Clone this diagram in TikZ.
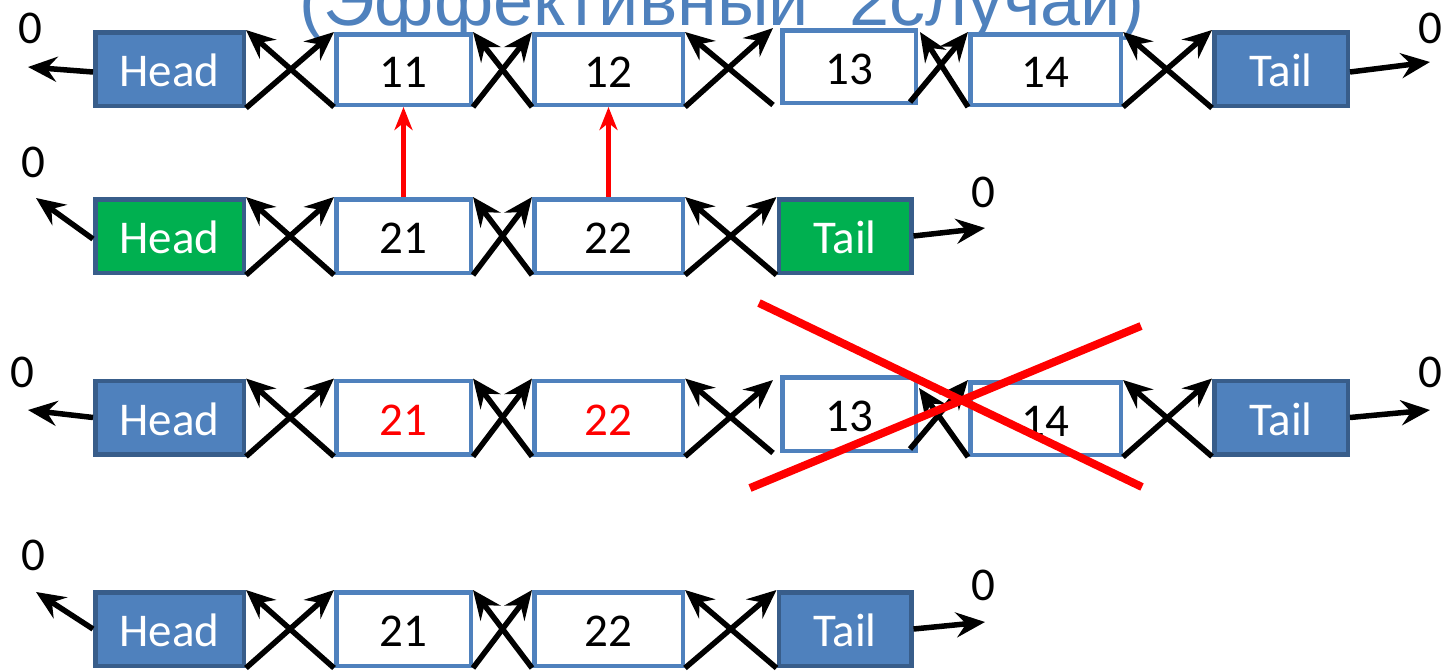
\documentclass[tikz,border=0pt]{standalone}
\usepackage{fontspec}
\setmainfont{Carlito}
\newfontfamily\titlefont{Liberation Sans}
\usetikzlibrary{arrows.meta,calc}
\definecolor{pblue}{HTML}{4F81BD}
\definecolor{pdark}{HTML}{385D8A}
\definecolor{pgreen}{HTML}{00B050}
\definecolor{pred}{HTML}{FF0000}
\tikzset{
  bluebox/.style={draw=pdark, fill=pblue, line width=4.5pt, text=white, inner sep=0pt, minimum height=73.5pt, text height=35pt, text depth=0pt, font=\fontsize{47}{50}\selectfont},
  greenbox/.style={bluebox, fill=pgreen},
  whitebox/.style={draw=pblue, fill=white, line width=4.5pt, text=black, inner sep=0pt, minimum height=70.5pt, text height=35pt, text depth=0pt, font=\fontsize{47}{50}\selectfont},
  arr/.style={line width=5.5pt, -{Stealth[length=29pt,width=25pt,inset=10pt]}},
  redarr/.style={draw=pred, line width=4.5pt, -{Stealth[length=23pt,width=18pt,inset=7pt]}},
  cross/.style={draw=pred, line width=8pt},
  zero/.style={font=\fontsize{47}{50}\selectfont, inner sep=0pt}
}
\begin{document}
\begin{tikzpicture}[x=1pt,y=-1pt]
\clip (0,0) rectangle (1443,670);
\fill[white] (0,0) rectangle (1443,670);

% title
\node[anchor=base, inner sep=0pt, text=pblue, font=\titlefont\fontsize{72}{80}\selectfont] (title) at (722,25) {(Эффективный\ \ 2случай)};

% ---------- row 1 ----------
\node[bluebox, minimum width=148.5pt] (h1) at (169.5,69) {Head};
\node[whitebox, minimum width=134.5pt] (a11) at (403.5,69.5) {11};
\node[whitebox, minimum width=148.5pt] (a12) at (608.5,69.5) {12};
\node[whitebox, minimum width=133.5pt, minimum height=72.5pt] (a13) at (849,66.5) {13};
\node[whitebox, minimum width=150.5pt] (a14) at (1045.5,69.5) {14};
\node[bluebox, minimum width=133.5pt] (t1) at (1281,69) {Tail};

\draw[arr] (h1.south east) -- (a11.north west);
\draw[arr] (a11.south west) -- (h1.north east);
\draw[arr] (a11.south east) -- (a12.north west);
\draw[arr] (a12.south west) -- (a11.north east);
\draw[arr] (a12.south east) -- ([xshift=-7pt]a13.north west);
\draw[arr] ([xshift=-7pt]a13.south west) -- (a12.north east);
\draw[arr] ([xshift=-8pt,yshift=3pt]a13.south east) -- (a14.north west);
\draw[arr] (a14.south west) -- ([xshift=2pt,yshift=-4pt]a13.north east);
\draw[arr] (a14.south east) -- (t1.north west);
\draw[arr] (t1.south west) -- (a14.north east);

\coordinate (z1l) at (28,67);
\coordinate (z1r) at (1430,62);
\draw[arr] ([yshift=-3pt]h1.west) -- (z1l);
\draw[arr] ([yshift=-3pt]t1.east) -- (z1r);
\node[zero] (o1l) at (30,28) {0};
\node[zero] (o1r) at (1430,28) {0};

% ---------- row 2 ----------
\node[greenbox, minimum width=148.5pt] (h2) at (169.5,236) {Head};
\node[whitebox, minimum width=134.5pt, minimum height=73.5pt] (b21) at (403.5,236) {21};
\node[whitebox, minimum width=148.5pt, minimum height=73.5pt] (b22) at (608.5,236) {22};
\node[greenbox, minimum width=132.5pt] (t2) at (845,236) {Tail};

\draw[arr] (h2.south east) -- (b21.north west);
\draw[arr] (b21.south west) -- (h2.north east);
\draw[arr] (b21.south east) -- (b22.north west);
\draw[arr] (b22.south west) -- (b21.north east);
\draw[arr] (b22.south east) -- (t2.north west);
\draw[arr] (t2.south west) -- (b22.north east);

\coordinate (z2l) at (36,198);
\coordinate (z2r) at (985,228);
\draw[arr] ([yshift=-3pt]h2.west) -- (z2l);
\draw[arr] (t2.east) -- (z2r);
\node[zero] (o2l) at (33,162) {0};
\node[zero] (o2r) at (983,192) {0};

\draw[redarr] (b21.north) -- (a11.south);
\draw[redarr] (b22.north) -- (a12.south);

% ---------- row 3 ----------
\node[bluebox, minimum width=148.5pt] (h3) at (169.5,417.5) {Head};
\node[whitebox, minimum width=134.5pt, minimum height=73.5pt, text=pred] (c21) at (403.5,417.5) {21};
\node[whitebox, minimum width=148.5pt, minimum height=73.5pt, text=pred] (c22) at (608.5,417.5) {22};
\node[whitebox, minimum width=133.5pt, minimum height=73.5pt] (c13) at (849,414) {13};
\node[whitebox, minimum width=150.5pt, minimum height=72.5pt] (c14) at (1045.5,418.5) {14};
\node[bluebox, minimum width=133.5pt] (t3) at (1281,417.5) {Tail};

\draw[arr] (h3.south east) -- (c21.north west);
\draw[arr] (c21.south west) -- (h3.north east);
\draw[arr] (c21.south east) -- (c22.north west);
\draw[arr] (c22.south west) -- (c21.north east);
\draw[arr] (c22.south east) -- ([xshift=-7pt,yshift=-5pt]c13.north west);
\draw[arr] ([xshift=-7pt]c13.south west) -- (c22.north east);
\draw[arr] ([xshift=-8pt,yshift=4pt]c13.south east) -- (c14.north west);
\draw[arr] (c14.south west) -- ([xshift=1pt,yshift=-13pt]c13.north east);
\draw[arr] (c14.south east) -- (t3.north west);
\draw[arr] (t3.south west) -- (c14.north east);

\coordinate (z3l) at (28,410);
\coordinate (z3r) at (1430,410);
\draw[arr] (h3.west) -- (z3l);
\draw[arr] (t3.east) -- (z3r);
\node[zero] (o3l) at (22,372) {0};
\node[zero] (o3r) at (1430,372) {0};

% red cross
\coordinate (x1a) at (759,303);
\coordinate (x1b) at (1142,487);
\coordinate (x2a) at (750,488);
\coordinate (x2b) at (1141,326);
\draw[cross] (x1a) -- (x1b);
\draw[cross] (x2a) -- (x2b);

% ---------- row 4 ----------
\node[bluebox, minimum width=148.5pt] (h4) at (169.5,629) {Head};
\node[whitebox, minimum width=134.5pt, minimum height=73.5pt] (d21) at (403.5,629) {21};
\node[whitebox, minimum width=148.5pt, minimum height=73.5pt] (d22) at (608.5,629) {22};
\node[bluebox, minimum width=132.5pt] (t4) at (845,629) {Tail};

\draw[arr] (h4.south east) -- (d21.north west);
\draw[arr] (d21.south west) -- (h4.north east);
\draw[arr] (d21.south east) -- (d22.north west);
\draw[arr] (d22.south west) -- (d21.north east);
\draw[arr] (d22.south east) -- (t4.north west);
\draw[arr] (t4.south west) -- (d22.north east);

\coordinate (z4l) at (36,592);
\coordinate (z4r) at (985,622);
\draw[arr] (h4.west) -- (z4l);
\draw[arr] (t4.east) -- (z4r);
\node[zero] (o4l) at (33,555) {0};
\node[zero] (o4r) at (983,585) {0};
\end{tikzpicture}
\end{document}
